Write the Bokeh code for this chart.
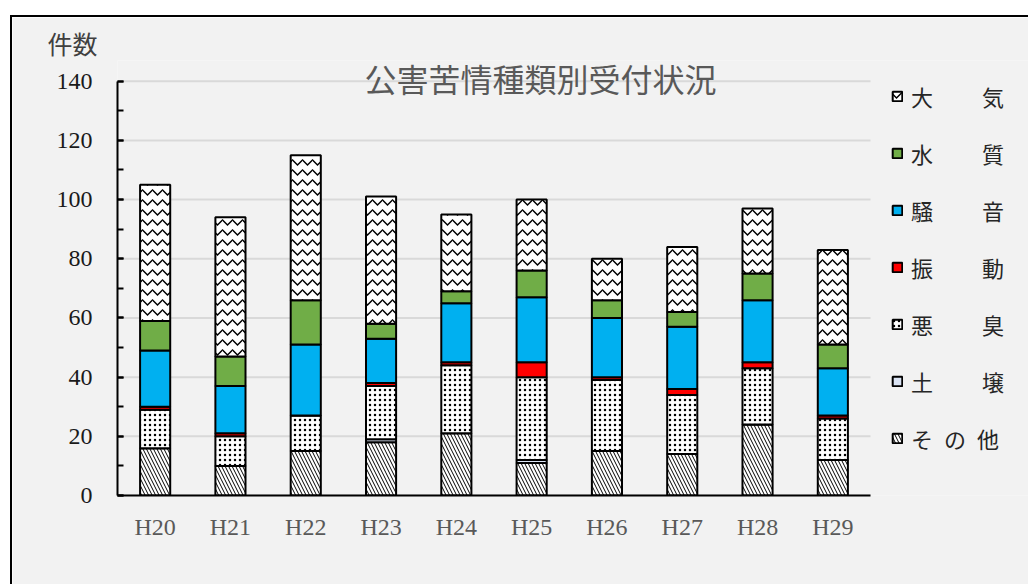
from bokeh.plotting import figure
from bokeh.models import (ColumnDataSource, Range1d, Legend, LegendItem,
                          Title, Label, SingleIntervalTicker, FixedTicker, Spacer)
from bokeh.layouts import column
from bokeh.transform import stack
from bokeh.embed import file_html
from bokeh.resources import INLINE

years = ["H20", "H21", "H22", "H23", "H24", "H25", "H26", "H27", "H28", "H29"]
other = [16, 10, 15, 18, 21, 11, 15, 14, 24, 12]
soil = [0, 0, 0, 1, 0, 1, 0, 0, 0, 0]
odour = [13, 10, 12, 18, 23, 28, 24, 20, 19, 14]
vibration = [1, 1, 0, 1, 1, 5, 1, 2, 2, 1]
noise = [19, 16, 24, 15, 20, 22, 20, 21, 21, 16]
water = [10, 10, 15, 5, 4, 9, 6, 5, 9, 8]
air = [46, 47, 49, 43, 26, 24, 14, 22, 22, 32]

y_ticks = [0, 20, 40, 60, 80, 100, 120, 140]

series_keys = ["other", "soil", "odour", "vibration", "noise", "water", "air"]
series_labels = ["そ\u2002の\u2002他", "土\u3000\u3000 壌", "悪\u3000\u3000 臭", "振\u3000\u3000 動",
                 "騒\u3000\u3000 音", "水\u3000\u3000 質", "大\u3000\u3000 気"]
fill_colors = ["white", "#dae3f3", "white", "#ff0000", "#00b0f0", "#70ad47", "white"]
hatches = ["\\", None, ".", None, None, None, "v"]
hatch_scales = [7, 8, 5, 8, 8, 8, 10]
hatch_weights = [1.0, 1, 1.5, 1, 1, 1, 1.5]

# category slots: one unit per year, bar centred in its slot
x_pos = [i + 0.5 for i in range(len(years))]
n_cat = len(years)

source = ColumnDataSource(dict(x=x_pos, year=years, other=other, soil=soil, odour=odour,
                               vibration=vibration, noise=noise, water=water, air=air))

p = figure(x_range=Range1d(0, 12.125), y_range=Range1d(0, 147),
           width=1018, height=569, output_backend="svg", toolbar_location=None,
           title=None, min_border_left=105, min_border_right=0,
           min_border_top=43, min_border_bottom=91)
p.border_fill_color = "#f2f2f2"
p.background_fill_color = "#f2f2f2"
p.outline_line_color = None
p.styles = {"margin-left": "10px", "border-left": "2px solid black", "border-top": "2px solid black"}

# horizontal gridlines across the category area only
p.segment(x0=[0] * len(y_ticks), x1=[n_cat] * len(y_ticks), y0=y_ticks, y1=y_ticks,
          line_color="#d9d9d9", line_width=2)

renderers = []
for i, key in enumerate(series_keys):
    bottom = stack(*series_keys[:i]) if i > 0 else 0
    top = stack(*series_keys[:i + 1])
    kw = {}
    if hatches[i]:
        kw = dict(hatch_pattern=hatches[i], hatch_color="black",
                  hatch_scale=hatch_scales[i], hatch_weight=hatch_weights[i])
    r = p.vbar(x="x", width=0.4, bottom=bottom, top=top, source=source,
               fill_color=fill_colors[i], line_color="black", line_width=2, **kw)
    renderers.append(r)

# axes
p.yaxis.ticker = SingleIntervalTicker(interval=20, num_minor_ticks=2)
p.yaxis.bounds = (y_ticks[0], y_ticks[-1])
p.yaxis.major_tick_in = 6
p.yaxis.major_tick_out = 0
p.yaxis.minor_tick_in = 6
p.yaxis.minor_tick_out = 0
p.yaxis.axis_line_color = "black"
p.yaxis.axis_line_width = 2
p.yaxis.major_tick_line_width = 2
p.yaxis.minor_tick_line_width = 2
p.yaxis.major_label_text_font = "Liberation Serif"
p.yaxis.major_label_text_font_size = "24px"
p.yaxis.major_label_text_color = "#1a1a1a"
p.yaxis.major_label_standoff = 25

p.xaxis.ticker = FixedTicker(ticks=x_pos)
p.xaxis.major_label_overrides = {x: y for x, y in zip(x_pos, years)}
p.xaxis.bounds = (0, n_cat)
p.xaxis.major_tick_line_color = None
p.xaxis.minor_tick_line_color = None
p.xaxis.axis_line_color = "black"
p.xaxis.axis_line_width = 2
p.xaxis.major_label_text_font = "Liberation Serif"
p.xaxis.major_label_text_font_size = "24px"
p.xaxis.major_label_text_color = "#595959"
p.xaxis.major_label_standoff = 12

p.xgrid.visible = False
p.ygrid.visible = False

# chart title (inside the frame) and unit title (above)
p.add_layout(Label(x=5.617, y=141, text="公害苦情種類別受付状況", text_align="center",
                   text_baseline="middle", text_font="Noto Sans CJK JP",
                   text_font_size="32px", text_color="#595959"))
unit_title = Title(text="件数", align="left", offset=-70,
                   text_font="Noto Sans CJK JP", text_font_size="25px",
                   text_font_style="normal", text_color="#404040",
                   vertical_align="bottom", standoff=0)
p.add_layout(unit_title, "above")

items = [LegendItem(label=series_labels[i], renderers=[renderers[i]])
         for i in reversed(range(len(series_keys)))]
legend = Legend(items=items, location=(774, 41), orientation="vertical",
                glyph_width=12, glyph_height=12, label_standoff=8,
                label_text_font="Noto Sans CJK JP", label_text_font_size="22px",
                label_text_color="#262626", label_height=22, spacing=25,
                padding=0, margin=0, border_line_color=None,
                background_fill_alpha=0)
p.add_layout(legend)

layout = column(Spacer(height=15), p)
open("out.html", "w").write(file_html(layout, INLINE))
